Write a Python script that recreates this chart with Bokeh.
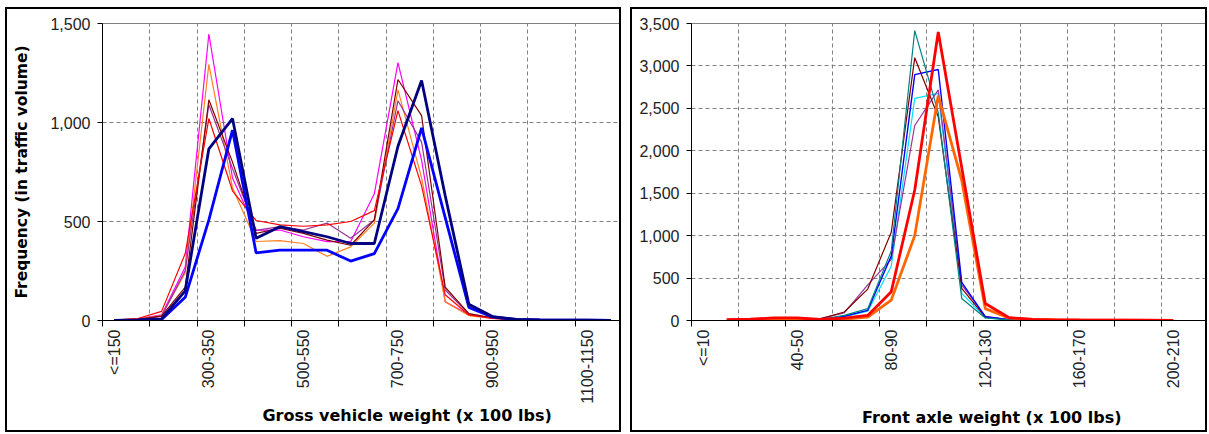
import math
from bokeh.plotting import figure
from bokeh.models import FixedTicker, NumeralTickFormatter, Range1d
from bokeh.layouts import row
from bokeh.embed import file_html
from bokeh.resources import INLINE

nan = float("nan")

# ---------------- data: left panel (gross vehicle weight) ----------------
gvw_cats = ["<=150", "150-200", "200-250", "250-300", "300-350", "350-400", "400-450",
            "450-500", "500-550", "550-600", "600-650", "650-700", "700-750", "750-800",
            "800-850", "850-900", "900-950", "950-1000", "1000-1050", "1050-1100",
            "1100-1150", "1150-1200"]
gvw_magenta = [2, 8, 28, 270, 1447, 720, 456, 457, 423, 398, 398, 640, 1302, 810, 95, 30, 12, 4, 3, 2, 2, 1]
gvw_orange = [2, 8, 25, 240, 1294, 670, 399, 403, 389, 324, 372, 492, 1165, 720, 94, 25, 10, 4, 3, 2, 2, 1]
gvw_maroon = [2, 6, 22, 169, 1115, 800, 440, 466, 440, 406, 380, 508, 1217, 1035, 168, 35, 14, 5, 3, 2, 2, 1]
gvw_purple = [2, 6, 22, 251, 1090, 768, 455, 474, 457, 492, 415, 508, 1110, 901, 154, 32, 12, 4, 3, 2, 2, 1]
gvw_red = [3, 10, 46, 338, 1020, 655, 505, 483, 476, 483, 500, 555, 1060, 680, 130, 28, 10, 4, 3, 2, 2, 1]
gvw_navy = [0, 3, 8, 150, 867, 1020, 415, 474, 449, 423, 389, 389, 880, 1212, 630, 82, 20, 5, 3, 2, 2, 1]
gvw_blue = [0, 2, 5, 117, 508, 961, 341, 355, 355, 355, 300, 338, 565, 973, 520, 66, 18, 5, 3, 2, 2, 1]
gvw_label_idx = [0, 4, 8, 12, 16, 20]
gvw_title = "Gross vehicle weight (x 100 lbs)"
gvw_ytitle = "Frequency (in traffic volume)"

# ---------------- data: right panel (front axle weight) ----------------
faw_cats = ["<=10", "10-20", "20-30", "30-40", "40-50", "50-60", "60-70", "70-80", "80-90",
            "90-100", "100-110", "110-120", "120-130", "130-140", "140-150", "150-160",
            "160-170", "170-180", "180-190", "190-200", "200-210", "210-220"]
faw_teal = [nan, 2, 3, 4, 6, 12, 60, 140, 819, 3417, 2450, 260, 30, 8, 4, 3, 2, 2, 1, 1, nan, nan]
faw_maroon = [nan, 3, 5, 6, 10, 20, 100, 370, 1040, 3097, 2400, 380, 40, 10, 5, 3, 2, 2, 1, 1, nan, nan]
faw_blue = [nan, 2, 3, 4, 6, 12, 50, 120, 760, 2898, 2958, 450, 45, 10, 5, 3, 2, 2, 1, 1, nan, nan]
faw_cyan = [nan, 2, 3, 4, 6, 10, 45, 110, 640, 2617, 2677, 320, 35, 8, 4, 3, 2, 2, 1, 1, nan, nan]
faw_purple = [nan, 3, 5, 8, 12, 25, 90, 420, 720, 2298, 2718, 420, 50, 12, 6, 4, 3, 2, 2, 1, nan, nan]
faw_red = [nan, 10, 15, 30, 30, 12, 28, 60, 340, 1538, 3400, 1800, 200, 35, 12, 8, 6, 5, 4, 3, 2, nan]
faw_orange = [nan, 5, 8, 10, 12, 8, 15, 40, 240, 1000, 2650, 1650, 140, 30, 12, 8, 5, 4, 3, 2, 1, nan]
faw_label_idx = [0, 4, 8, 12, 16, 20]
faw_title = "Front axle weight (x 100 lbs)"

FONT = "Liberation Sans"
TITLE_FONT = "DejaVu Sans"
NBSP = "\u00a0"


def make_panel(width, height, cats, series, ymax, ystep, label_idx, label_pad, xtitle,
               shift_spaces, ytitle, border_left, border_right, margin_left):
    n = len(cats)
    p = figure(width=width, height=height, output_backend="svg", toolbar_location=None,
               x_range=Range1d(-0.5, n - 0.5), y_range=Range1d(0, ymax),
               min_border_left=border_left, min_border_right=border_right,
               min_border_top=14, min_border_bottom=114)
    p.background_fill_color = "white"
    p.border_fill_color = "white"
    p.outline_line_color = "#808080"
    p.outline_line_width = 1
    p.styles = {"border": "2px solid black", "box-sizing": "content-box",
                "margin-top": "7px", "margin-left": margin_left}

    xs = list(range(n))
    for vals, color, lw in series:
        p.line(xs, vals, line_color=color, line_width=lw)

    bounds = [b - 0.5 for b in range(0, n + 1, 2)]
    ax = p.xaxis[0]
    ax.ticker = FixedTicker(ticks=label_idx, minor_ticks=bounds)
    # non-breaking padding keeps both panels' label bands the same depth
    ax.major_label_overrides = {i: NBSP * label_pad + cats[i] for i in label_idx}
    ax.major_label_orientation = math.pi / 2
    ax.major_tick_out = 0
    ax.major_tick_in = 0
    ax.minor_tick_out = 6
    ax.minor_tick_in = 0
    ax.minor_tick_line_color = "black"
    ax.axis_line_color = "black"
    ax.major_label_standoff = 3
    ax.major_label_text_font = FONT
    ax.major_label_text_font_size = "16px"
    ax.major_label_text_color = "#222222"
    ax.axis_label = NBSP * shift_spaces + xtitle
    ax.axis_label_text_font = TITLE_FONT
    ax.axis_label_text_font_size = "16px"
    ax.axis_label_text_font_style = "bold"
    ax.axis_label_text_color = "black"
    ax.axis_label_standoff = -1

    ay = p.yaxis[0]
    ay.ticker = FixedTicker(ticks=list(range(0, ymax + 1, ystep)))
    ay.formatter = NumeralTickFormatter(format="0,0")
    ay.major_tick_out = 5
    ay.major_tick_in = 0
    ay.minor_tick_out = 0
    ay.minor_tick_in = 0
    ay.axis_line_color = "black"
    ay.major_tick_line_color = "black"
    ay.major_label_standoff = 7
    ay.major_label_text_font = FONT
    ay.major_label_text_font_size = "16px"
    ay.major_label_text_color = "#222222"
    if ytitle:
        ay.axis_label = ytitle
        ay.axis_label_text_font = TITLE_FONT
        ay.axis_label_text_font_size = "15.5px"
        ay.axis_label_text_font_style = "bold"
        ay.axis_label_text_color = "black"
        ay.axis_label_standoff = 16

    p.xgrid.ticker = FixedTicker(ticks=bounds[1:-1])
    p.ygrid.ticker = FixedTicker(ticks=list(range(ystep, ymax, ystep)))
    for g in (p.xgrid[0], p.ygrid[0]):
        g.grid_line_color = "#808080"
        g.grid_line_dash = "4 3"
        g.grid_line_width = 1
    return p


THIN = 1.2
THICK = 2.8

left = make_panel(612, 421, gvw_cats, [
    (gvw_magenta, "#FF00FF", THIN),
    (gvw_orange, "#FF8020", THIN),
    (gvw_purple, "#993399", THIN),
    (gvw_maroon, "#800000", THIN),
    (gvw_red, "#FF0000", THIN),
    (gvw_blue, "#0000FF", THICK),
    (gvw_navy, "#000080", THICK),
], 1500, 500, gvw_label_idx, 0, gvw_title, 16, gvw_ytitle, 95, 1, "5px")

right = make_panel(573, 421, faw_cats, [
    (faw_cyan, "#00E0FF", THIN),
    (faw_purple, "#993399", THIN),
    (faw_maroon, "#800000", THIN),
    (faw_blue, "#0000FF", 1.4),
    (faw_teal, "#008080", THIN),
    (faw_orange, "#FF6600", THICK),
    (faw_red, "#FF0000", THICK),
], 3500, 500, faw_label_idx, 4, faw_title, 15, None, 59, 1, "0px")

layout = row(left, right, spacing=9)

open("out.html", "w").write(file_html(layout, INLINE))
